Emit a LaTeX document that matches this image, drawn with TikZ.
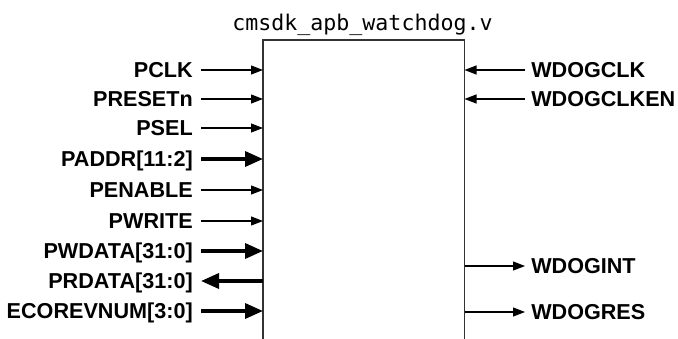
\documentclass[tikz,border=0pt]{standalone}
\usepackage{fontspec}
\setmainfont{Liberation Sans}
\setmonofont{DejaVu Sans Mono}
\usetikzlibrary{positioning,arrows.meta}
\definecolor{wdogline}{RGB}{50,50,50}

\begin{document}
\begin{tikzpicture}[
        x=0.75pt, y=-0.75pt,
        sigin/.style={anchor=east, inner xsep=6pt, inner ysep=0pt, text height=11.6pt, text depth=0pt, font=\fontsize{16.2}{19}\selectfont\bfseries},
        sigout/.style={sigin, anchor=west, inner xsep=4.5pt},
        wire/.style={-{Triangle[length=9pt,width=6.75pt]}, line width=0.9pt},
        bus/.style={-{Triangle[length=13.5pt,width=11.25pt]}, line width=2.6pt}
    ]
        \useasboundingbox (0,0) rectangle (678,339);

        % Block
        \node (wdog) [minimum width=150.75pt, minimum height=224.25pt, inner sep=0pt, anchor=north west] at (263,40) {};
        \draw [line width=0.8pt, wdogline] (wdog.south west) |- (wdog.north east) -- (wdog.south east);
        \node (title) [anchor=base, inner sep=0pt, font=\fontsize{16.2}{19}\selectfont\ttfamily] at (362.5,31) {cmsdk\_apb\_watchdog.v};

        % Nodes
        \node (pclk) [sigin] at (201,70) {PCLK};
        \node (presetn) [sigin] at (201,99) {PRESETn};
        \node (psel) [sigin] at (201,128) {PSEL};
        \node (paddr) [sigin] at (201,159) {PADDR[11:2]};
        \node (penable) [sigin] at (201,190) {PENABLE};
        \node (pwrite) [sigin] at (201,221) {PWRITE};
        \node (pwdata) [sigin] at (201,251) {PWDATA[31:0]};
        \node (prdata) [sigin] at (201,281) {PRDATA[31:0]};
        \node (ecorevnum) [sigin] at (201,311) {ECOREVNUM[3:0]};

        \node (wdogclk) [sigout] at (525,70) {WDOGCLK};
        \node (wdogclken) [sigout] at (525,99) {WDOGCLKEN};
        \node (wdogint) [sigout] at (525,266) {WDOGINT};
        \node (wdogres) [sigout] at (525,312) {WDOGRES};

        % Arrows
        \draw [wire] (pclk) -- (pclk -| wdog.west);
        \draw [wire] (presetn) -- (presetn -| wdog.west);
        \draw [wire] (psel) -- (psel -| wdog.west);
        \draw [bus] (paddr) -- (paddr -| wdog.west);
        \draw [wire] (penable) -- (penable -| wdog.west);
        \draw [wire] (pwrite) -- (pwrite -| wdog.west);
        \draw [bus] (pwdata) -- (pwdata -| wdog.west);
        \draw [bus] (prdata -| wdog.west) -- (prdata);
        \draw [bus] (ecorevnum) -- (ecorevnum -| wdog.west);

        \draw [wire] (wdogclk) -- (wdogclk -| wdog.east);
        \draw [wire] (wdogclken) -- (wdogclken -| wdog.east);
        \draw [wire] (wdogint -| wdog.east) -- (wdogint);
        \draw [wire] (wdogres -| wdog.east) -- (wdogres);
    \end{tikzpicture}
\end{document}
